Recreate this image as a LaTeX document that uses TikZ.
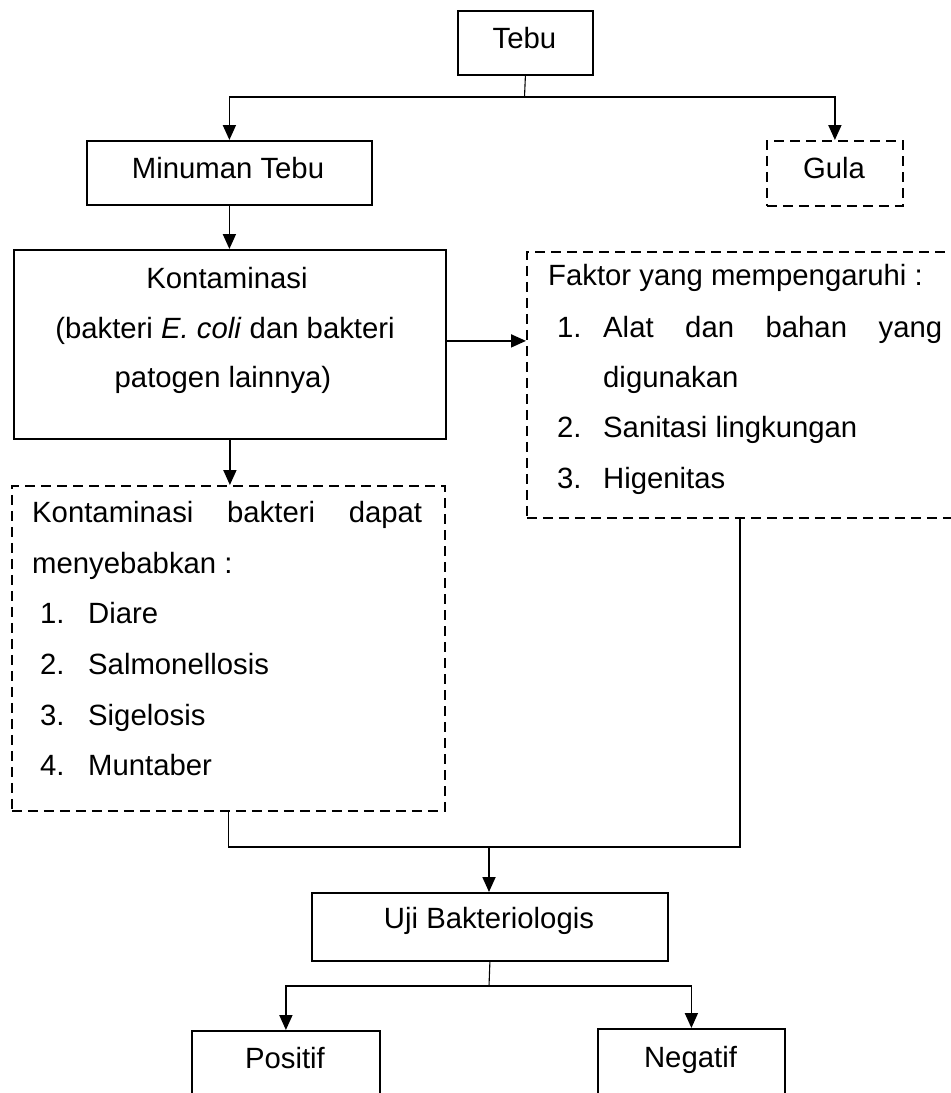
\documentclass[tikz,border=0pt]{standalone}
\usepackage{fontspec}
\setmainfont{Liberation Sans}
\usetikzlibrary{arrows.meta}
\begin{document}
\begin{tikzpicture}[x=1pt,y=-1pt,
  box/.style={draw, line width=1.8pt, rectangle, inner sep=0pt, anchor=north west},
  dbox/.style={box, dash pattern=on 10pt off 6pt},
  txt/.style={inner sep=0pt, font=\fontsize{29.3}{35}\selectfont},
  tc/.style={txt, anchor=base},
  tl/.style={txt, anchor=base west},
  arr/.style={line width=1.8pt, -{Triangle[length=15pt,width=13pt]}},
  ln/.style={line width=1.4pt},
  stub/.style={line width=1.1pt}]
\clip (0,0) rectangle (951,1093);
% boxes
\node[box, minimum width=135pt, minimum height=64pt] (tebu) at (457,10) {};
\node[box, minimum width=285pt, minimum height=64pt] (minuman) at (86,140) {};
\node[dbox, minimum width=136pt, minimum height=65pt] (gula) at (766,140) {};
\node[box, minimum width=432pt, minimum height=189pt] (kont) at (13,249) {};
\node[dbox, minimum width=460pt, minimum height=266pt] (faktor) at (526,251) {};
\node[dbox, minimum width=433pt, minimum height=325pt] (sebab) at (11,485) {};
\node[box, minimum width=356pt, minimum height=68pt] (uji) at (311,892) {};
\node[box, minimum width=188pt, minimum height=100pt] (positif) at (191,1030) {};
\node[box, minimum width=187pt, minimum height=100pt] (negatif) at (597,1028) {};
% texts
\node[tc] (tTebu) at (524.5,48) {Tebu};
\node[tc] (tMin) at (228,178) {Minuman Tebu};
\node[tc] (tGula) at (834,178) {Gula};
\node[tc] (tK1) at (227,288) {Kontaminasi};
\node[tc] (tK2) at (225,338) {(bakteri \textit{E. coli} dan bakteri};
\node[tc] (tK3) at (223,387) {patogen lainnya)};
\node[tl] (tF0) at (548,285) {Faktor yang mempengaruhi :};
\node[tl] (tF1n) at (557,337) {1.};
\node[tl] (tF1) at (603,337) {\hbox to 339pt{Alat\hfill dan\hfill bahan\hfill yang}};
\node[tl] (tF1b) at (603,387) {digunakan};
\node[tl] (tF2n) at (557,437) {2.};
\node[tl] (tF2) at (603,437) {Sanitasi lingkungan};
\node[tl] (tF3n) at (557,488) {3.};
\node[tl] (tF3) at (603,488) {Higenitas};
\node[tl] (tS0) at (32,522) {\hbox to 390pt{Kontaminasi\hfill bakteri\hfill dapat}};
\node[tl] (tS0b) at (32,573) {menyebabkan :};
\node[tl] (tS1n) at (40,623) {1.};
\node[tl] (tS1) at (88,623) {Diare};
\node[tl] (tS2n) at (40,674) {2.};
\node[tl] (tS2) at (88,674) {Salmonellosis};
\node[tl] (tS3n) at (40,725) {3.};
\node[tl] (tS3) at (88,725) {Sigelosis};
\node[tl] (tS4n) at (40,775) {4.};
\node[tl] (tS4) at (88,775) {Muntaber};
\node[tc] (tUji) at (489,928) {Uji Bakteriologis};
\node[tc] (tPos) at (285,1068) {Positif};
\node[tc] (tNeg) at (690.5,1067) {Negatif};
% connectors
\coordinate (jt) at (524.5,97);
\draw[stub] (tebu.south) -- (jt);
\draw[arr] (jt) -| (minuman.north);
\draw[arr] (jt) -| (gula.north);
\draw[arr] (minuman.south) -- (minuman.south |- kont.north);
\path ([yshift=3.5pt]kont.east) coordinate (ke);
\draw[arr] (ke) -- (ke -| faktor.west);
\draw[arr] (kont.south) -- (kont.south |- sebab.north);
\coordinate (fb) at (740,517);
\coordinate (jm) at (489,847);
\draw[ln] (sebab.south) |- (jm) -| (fb);
\draw[arr] (jm) -- (jm |- uji.north);
\coordinate (jl) at (489,986);
\draw[stub] (uji.south) -- (jl);
\draw[arr] (jl) -| (positif.north);
\draw[arr] (jl) -| (negatif.north);
\end{tikzpicture}
\end{document}
